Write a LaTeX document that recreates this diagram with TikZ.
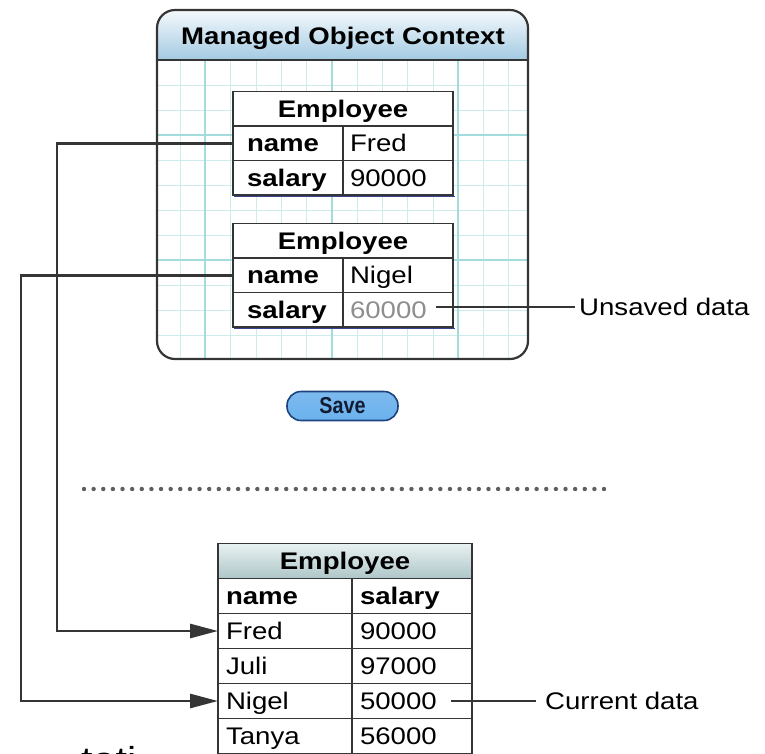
\documentclass[tikz,border=0pt]{standalone}
\usepackage{fontspec}
\setmainfont{Liberation Sans}[FakeStretch=1.15]
\newfontfamily\btnfont{Liberation Sans}[FakeStretch=0.86]
\usetikzlibrary{arrows.meta,calc}

\definecolor{linec}{HTML}{353535}
\definecolor{gridminor}{HTML}{CDEDED}
\definecolor{gridmajor}{HTML}{A2DCDC}
\definecolor{titletop}{HTML}{F4F9FC}
\definecolor{titlebot}{HTML}{A3CAE2}
\definecolor{shadowc}{HTML}{3A4390}
\definecolor{btntop}{HTML}{7DB9EE}
\definecolor{btnmid}{HTML}{2F74CC}
\definecolor{btnbot}{HTML}{6AB2EE}
\definecolor{btnedge}{HTML}{1E447F}
\definecolor{btntext}{HTML}{111C33}
\definecolor{headtop}{HTML}{E8F1F1}
\definecolor{headbot}{HTML}{AEC6C8}
\definecolor{dimtext}{HTML}{8E8E8E}
\definecolor{dotc}{HTML}{5E5E5E}

\tikzset{
  txt/.style={font=\fontsize{24}{28}\selectfont, text height=20pt, text depth=3pt},
  cell/.style={txt, draw=linec, line width=1.6pt, fill=white, inner ysep=0pt,
    minimum height=34.5pt, outer sep=0pt},
  headcell/.style={cell, font=\bfseries\fontsize{24}{28}\selectfont,
    inner xsep=7pt, text width=206pt, align=center},
  keycell/.style={cell, font=\bfseries\fontsize{24}{28}\selectfont,
    inner xsep=14pt, text width=82pt, align=left},
  valcell/.style={cell, inner xsep=7pt, text width=96pt, align=left},
  bhead/.style={cell, font=\bfseries\fontsize{24}{28}\selectfont, minimum height=35pt,
    inner xsep=7pt, text width=240pt, align=center, top color=headtop, bottom color=headbot},
  bkey/.style={cell, minimum height=35pt, inner xsep=8pt, text width=118pt, align=left},
  bval/.style={cell, minimum height=35pt, inner xsep=8pt, text width=104pt, align=left},
  conn/.style={draw=linec, line width=2.8pt, -{Triangle[length=28pt,width=14pt]}},
  callout/.style={draw=linec, line width=1.5pt},
  note/.style={txt, inner xsep=0pt, inner ysep=0pt, anchor=west}
}

\begin{document}
\begin{tikzpicture}[x=1pt,y=-1pt]
\useasboundingbox (0,0) rectangle (765,753);
\clip (0,0) rectangle (765,753);

% Managed object context: grid paper inside a rounded frame
\begin{scope}
  \clip[rounded corners=18pt] (157,10) rectangle (528,359);
  \fill[white] (157,10) rectangle (528,359);
  \foreach \x in {180,230,256,281,306,357,382,407,433,483,508}
    \draw[gridminor, line width=1pt] (\x,60) -- (\x,359);
  \foreach \y in {85,110,160,185,210,235,285,310,335}
    \draw[gridminor, line width=1pt] (157,\y) -- (528,\y);
  \foreach \x in {205,332,458}
    \draw[gridmajor, line width=1.6pt] (\x,60) -- (\x,359);
  \foreach \y in {135,260}
    \draw[gridmajor, line width=1.6pt] (157,\y) -- (528,\y);
  \shade[top color=titletop, bottom color=titlebot] (157,10) rectangle (528,60);
  \draw[linec, line width=1.5pt] (157,60) -- (528,60);
\end{scope}
\draw[linec, line width=2.2pt, rounded corners=18pt] (157,10) rectangle (528,359);
\node (moctitle) [font=\bfseries\fontsize{24}{28}\selectfont, text height=20pt, text depth=3pt, inner sep=0pt]
  at (343,36) {Managed Object Context};

% first object (Fred)
\draw[shadowc, line width=1.6pt] (234,196.5) -- (455,196.5);
\node (t1head) [headcell] at (343,108.75) {Employee};
\node (t1nk) [keycell] at (288,143.25) {name};
\node (t1nv) [valcell] at (398,143.25) {Fred};
\node (t1sk) [keycell] at (288,177.75) {salary};
\node (t1sv) [valcell] at (398,177.75) {90000};

% second object (Nigel), salary changed but not saved
\draw[shadowc, line width=1.6pt] (234,328.5) -- (455,328.5);
\node (t2head) [headcell] at (343,240.75) {Employee};
\node (t2nk) [keycell] at (288,275.25) {name};
\node (t2nv) [valcell] at (398,275.25) {Nigel};
\node (t2sk) [keycell] at (288,309.75) {salary};
\node (t2sv) [valcell, text=dimtext] at (398,309.75) {60000};

\coordinate (u1) at (436,307);
\node (unsaved) [note] at (579,307) {Unsaved data};
\draw[callout] (u1) -- ([xshift=-4pt]unsaved.west);

% save button
\node (save) [rounded corners=14pt, minimum width=111pt, minimum height=29pt, draw=btnedge,
  line width=1.6pt, top color=btntop, middle color=btnmid, bottom color=btnbot,
  text=btntext, font=\btnfont\bfseries\fontsize{23}{26}\selectfont, inner sep=0pt]
  at (342.5,406) {Save};

% separator between memory and store
\foreach \i in {0,...,54}
  \fill[dotc] (84+\i*9.63,489) circle (2.2pt);

% persistent store table
\node (bhead) [bhead] at (345,561) {Employee};
\node (bnk) [bkey, font=\bfseries\fontsize{24}{28}\selectfont] at (285,596) {name};
\node (bsk) [bval, font=\bfseries\fontsize{24}{28}\selectfont] at (412,596) {salary};
\node (bfred) [bkey] at (285,631) {Fred};
\node (bfredv) [bval] at (412,631) {90000};
\node (bjuli) [bkey] at (285,666) {Juli};
\node (bjuliv) [bval] at (412,666) {97000};
\node (bnigel) [bkey] at (285,701) {Nigel};
\node (bnigelv) [bval] at (412,701) {50000};
\node (btanya) [bkey] at (285,736) {Tanya};
\node (btanyav) [bval] at (412,736) {56000};

\coordinate (c1) at (451,701);
\node (current) [note] at (545,701) {Current data};
\draw[callout] (c1) -- ([xshift=-9pt]current.west);

% links from the managed objects to their rows
\draw[conn] (t1nk.west) -- ++(-176,0) |- (bfred.west);
\draw[conn] (t2nk.west) -- ++(-212,0) |- (bnigel.west);

% running text below the figure, cut by the lower edge
\node (tail) [anchor=base west, inner sep=0pt, font=\fontsize{36}{40}\selectfont] at (81,772) {tati};
\end{tikzpicture}
\end{document}
